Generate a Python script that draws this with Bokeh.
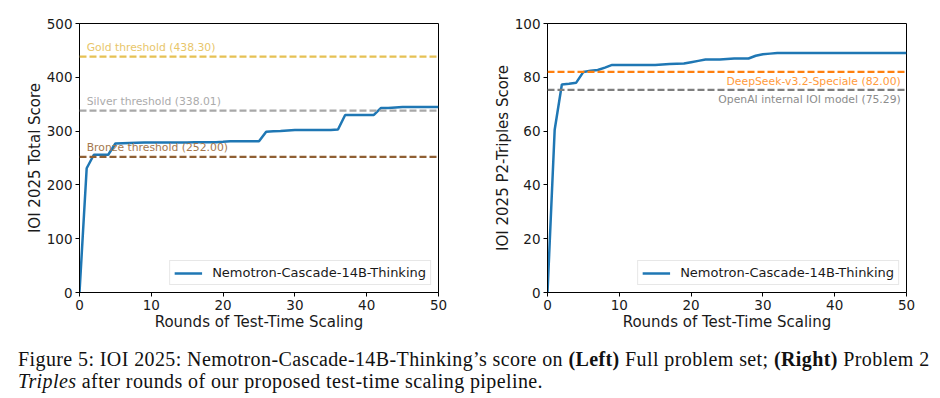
from bokeh.plotting import figure
from bokeh.models import FixedTicker, Div, Span, Label, Legend, LegendItem
from bokeh.layouts import row, column
from bokeh.embed import file_html
from bokeh.resources import INLINE

rounds = list(range(0, 51))
total_score = [0, 231, 256, 256, 256, 277, 277.5, 278, 278.5, 279,
               279, 279, 279, 279, 279, 279, 279.5, 279.5, 279.5, 279.5,
               280, 281, 281, 281, 281, 281, 299, 299.5, 300, 301,
               302, 302, 302, 302, 302, 302, 303, 330, 330, 330,
               330, 330, 343, 343, 344, 345, 345, 345, 345, 345, 345]
triples_score = [0, 60.5, 77.3, 77.6, 78.0, 82.0, 82.4, 82.7, 83.6, 84.6,
                 84.6, 84.6, 84.6, 84.6, 84.6, 84.6, 84.8, 84.9, 85.0, 85.1,
                 85.6, 86.1, 86.6, 86.6, 86.6, 86.8, 87.0, 87.0, 87.0, 88.0,
                 88.6, 88.8, 89.0, 89.0, 89.0, 89.0, 89.0, 89.0, 89.0, 89.0,
                 89.0, 89.0, 89.0, 89.0, 89.0, 89.0, 89.0, 89.0, 89.0, 89.0, 89.0]

series_label = "Nemotron-Cascade-14B-Thinking"
left_thresholds = [("Gold threshold (438.30)", 438.30, "#e6c154", "#e8c66a"),
                   ("Silver threshold (338.01)", 338.01, "#a8a8a8", "#ababab"),
                   ("Bronze threshold (252.00)", 252.00, "#8f5f33", "#a5774d")]
right_thresholds = [("DeepSeek-v3.2-Speciale (82.00)", 82.00, "#ff7f0e", "#ff9a3c"),
                    ("OpenAI internal IOI model (75.29)", 75.29, "#7f7f7f", "#8c8c8c")]
x_ticks = [0, 10, 20, 30, 40, 50]
left_y_ticks = [0, 100, 200, 300, 400, 500]
right_y_ticks = [0, 20, 40, 60, 80, 100]

FONT = "DejaVu Sans"
BLUE = "#1f77b4"


def make_fig(ylabel, ymax, yticks, width, border_left, border_right):
    p = figure(width=width, height=334, x_range=(0, 50), y_range=(0, ymax),
               output_backend="svg", toolbar_location=None,
               min_border_left=border_left, min_border_right=border_right,
               min_border_top=23, min_border_bottom=42)
    p.xgrid.visible = False
    p.ygrid.visible = False
    p.outline_line_color = "black"
    p.outline_line_width = 1
    p.xaxis.ticker = FixedTicker(ticks=x_ticks)
    p.yaxis.ticker = FixedTicker(ticks=yticks)
    for ax in (p.xaxis[0], p.yaxis[0]):
        ax.major_tick_in = 0
        ax.major_tick_out = 4
        ax.minor_tick_line_color = None
        ax.axis_line_color = "black"
        ax.major_tick_line_color = "black"
        ax.major_label_text_font = FONT
        ax.major_label_text_font_size = "13.5px"
        ax.major_label_text_color = "#1a1a1a"
        ax.axis_label_text_font = FONT
        ax.axis_label_text_font_size = "15px"
        ax.axis_label_text_font_style = "normal"
        ax.axis_label_text_color = "#1a1a1a"
    p.xaxis.axis_label = "Rounds of Test-Time Scaling"
    p.yaxis.axis_label = ylabel
    p.xaxis.major_label_standoff = 3
    p.yaxis.major_label_standoff = 3
    p.xaxis.axis_label_standoff = 0
    p.yaxis.axis_label_standoff = 0
    return p


def add_legend(p, r):
    leg = Legend(items=[LegendItem(label=series_label, renderers=[r])],
                 location="bottom_right", label_text_font=FONT,
                 label_text_font_size="13px", label_text_color="#1a1a1a",
                 glyph_width=28, glyph_height=14, margin=7, padding=4,
                 spacing=0, label_standoff=10,
                 border_line_color="#d0d0d0", border_line_width=1,
                 background_fill_alpha=0.8)
    p.add_layout(leg)


# Left panel
p1 = make_fig("IOI 2025 Total Score", 500, left_y_ticks, 470, 79, 32)
for name, val, lc, tc in left_thresholds:
    p1.add_layout(Span(location=val, dimension="width", line_color=lc,
                       line_width=2.2, line_dash="7 3"))
    p1.add_layout(Label(x=1, y=val, text=name, text_font=FONT,
                        text_font_size="10.8px", text_color=tc,
                        y_offset=3, text_baseline="bottom"))
r1 = p1.line(rounds, total_score, line_color=BLUE, line_width=2.5)
add_legend(p1, r1)

# Right panel
p2 = make_fig("IOI 2025 P2-Triples Score", 100, right_y_ticks, 470, 77, 34)
for name, val, lc, tc in right_thresholds:
    p2.add_layout(Span(location=val, dimension="width", line_color=lc,
                       line_width=2.2, line_dash="7 3"))
    p2.add_layout(Label(x=49.2, y=val, text=name, text_font=FONT,
                        text_font_size="10.8px", text_color=tc,
                        y_offset=-3, text_baseline="top", text_align="right"))
r2 = p2.line(rounds, triples_score, line_color=BLUE, line_width=2.5)
add_legend(p2, r2)

caption = Div(text=(
    "Figure 5: IOI 2025: Nemotron-Cascade-14B-Thinking’s score on <b>(Left)</b> "
    "Full problem set; <b>(Right)</b> Problem 2<br><i>Triples</i> after rounds of our "
    "proposed test-time scaling pipeline."),
    width=930, height=62,
    styles={"font-family": "'Liberation Serif', serif", "font-size": "20px",
            "letter-spacing": "0.4px",
            "line-height": "22px", "color": "#111111", "padding-left": "13px",
            "padding-top": "9px", "white-space": "nowrap",
            "box-sizing": "border-box", "overflow": "hidden"})

layout = column(row(p1, p2), caption)

with open("out.html", "w") as f:
    f.write(file_html(layout, INLINE))
